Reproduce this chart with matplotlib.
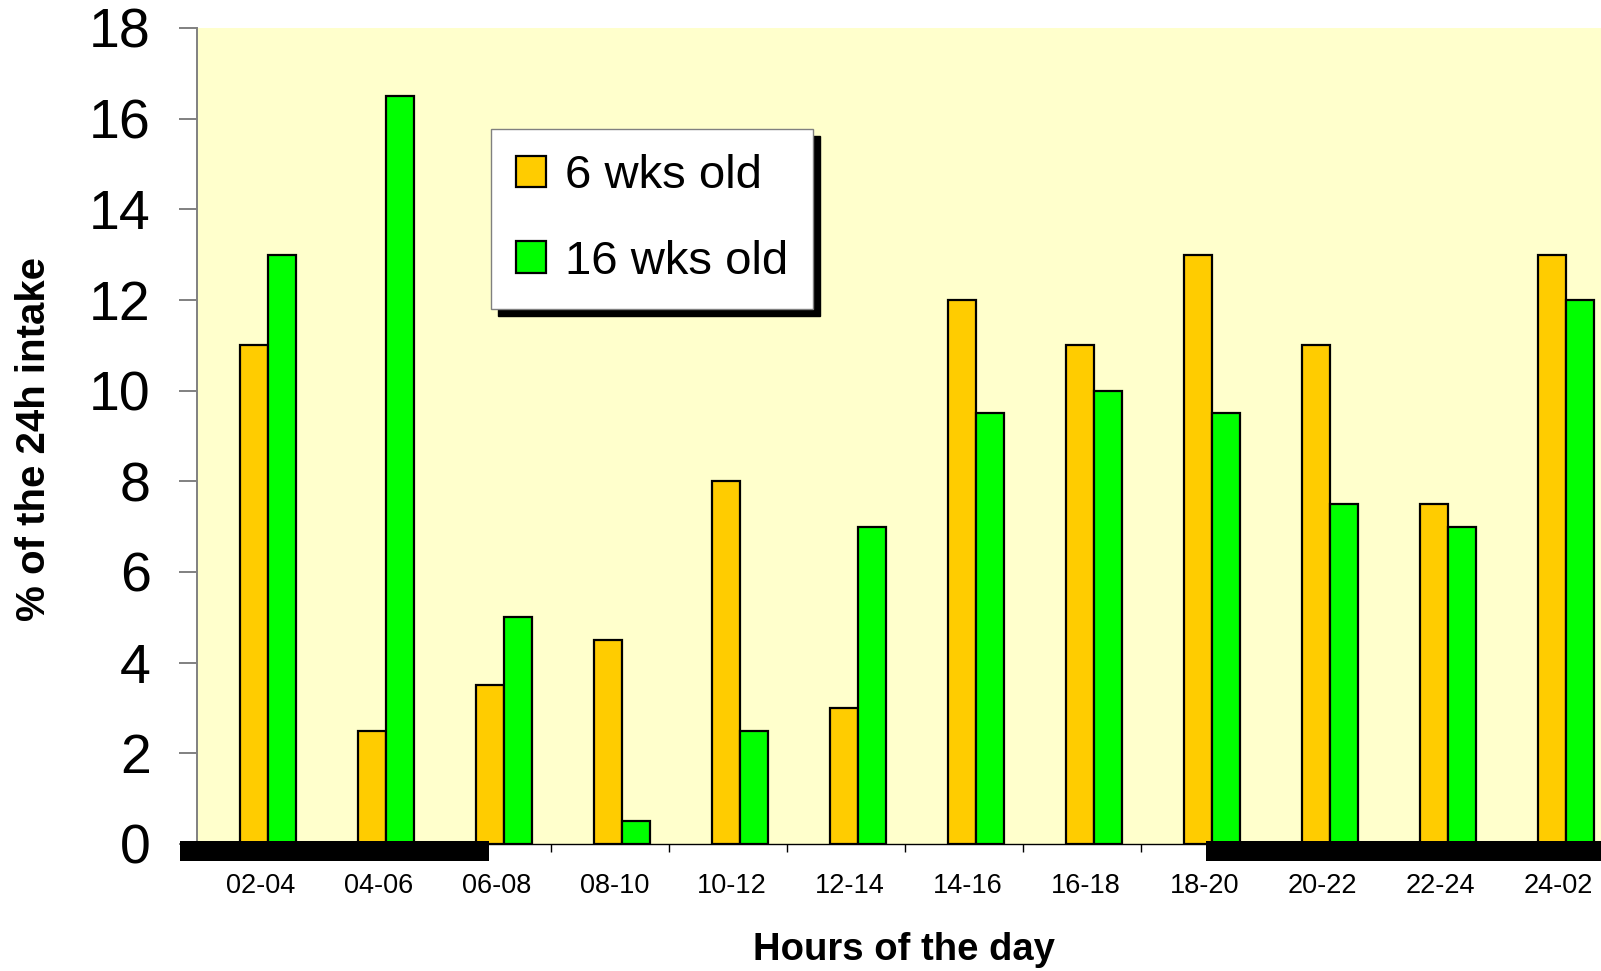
import matplotlib
matplotlib.use("Agg")
import matplotlib.pyplot as plt
from matplotlib.patches import Rectangle
import numpy as np

plt.rcParams["font.family"] = ["Liberation Sans", "DejaVu Sans"]

# two-hour feeding windows
periods = ["02-04", "04-06", "06-08", "08-10", "10-12", "12-14",
           "14-16", "16-18", "18-20", "20-22", "22-24", "24-02"]
# share of daily intake (%)
wk6 = [11, 2.5, 3.5, 4.5, 8, 3, 12, 11, 13, 11, 7.5, 13]
wk16 = [13, 16.5, 5, 0.5, 2.5, 7, 9.5, 10, 9.5, 7.5, 7, 12]
# dark periods, in category units along the x axis
dark = [(-0.14, 2.48), (8.555, 12.2)]

W, H = 1601, 971
fig = plt.figure(figsize=(W / 100, H / 100), dpi=100)
ax = fig.add_axes([196.5 / W, 1 - 844 / H, 1416 / W, 816 / H])
ax.set_facecolor("#FFFFCC")

x = np.arange(len(periods))
bw = 0.237
ax.bar(x + 0.369, wk6, width=bw, align="edge", color="#FFCC00",
       edgecolor="black", linewidth=1.6, label="6 wks old", zorder=2)
ax.bar(x + 0.369 + bw, wk16, width=bw, align="edge", color="#00FF00",
       edgecolor="black", linewidth=1.6, label="16 wks old", zorder=2)

for x0, x1 in dark:
    ax.add_patch(Rectangle((x0, -0.375), x1 - x0, 0.44, facecolor="black",
                           edgecolor="none", clip_on=False, zorder=4))

ax.set_xlim(0, 12)
ax.set_ylim(0, 18)
ax.set_yticks(np.arange(0, 19, 2))
ax.tick_params(axis="y", direction="out", length=13, width=1.4,
               color="#808080", labelsize=40, pad=20)

# boundary ticks between categories, labels centred in each slot
ax.set_xticks(np.arange(0, 13))
ax.set_xticklabels([])
ax.tick_params(axis="x", which="major", direction="out", length=6,
               width=1.0, color="black")
ax.set_xticks(x + 0.54, minor=True)
ax.set_xticklabels(periods, minor=True)
ax.tick_params(axis="x", which="minor", length=0, labelsize=19.5, pad=21)

for s in ("top", "right"):
    ax.spines[s].set_visible(False)
ax.spines["left"].set_color("#808080")
ax.spines["left"].set_linewidth(1.4)
ax.spines["bottom"].set_color("black")
ax.spines["bottom"].set_linewidth(1.0)

fig.text(34 / W, 1 - 439 / H, "% of the 24h intake", rotation=90,
         ha="center", va="center", fontsize=29, fontweight="bold")
fig.text(904 / W, 1 - 950 / H, "Hours of the day", ha="center",
         va="center", fontsize=27.5, fontweight="bold")

leg = ax.legend(loc="upper left", bbox_to_anchor=(491 / W, 1 - 129 / H),
                bbox_transform=fig.transFigure, borderaxespad=0,
                fontsize=34, frameon=True, fancybox=False,
                shadow={"color": "black", "alpha": 1, "ox": 5, "oy": -5},
                handlelength=0.64, handleheight=0.64, handletextpad=0.4,
                borderpad=0.53, labelspacing=0.88)
leg.get_frame().set_edgecolor("#808080")
leg.get_frame().set_linewidth(1.0)
leg.get_frame().set_facecolor("white")
leg.set_zorder(5)

fig.savefig("out.png", dpi=100)
